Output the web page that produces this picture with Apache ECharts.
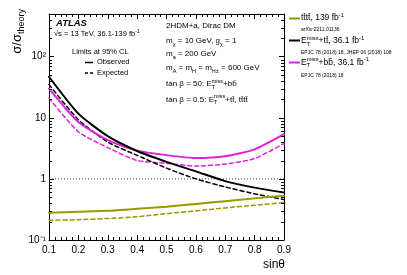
<!DOCTYPE html>
<html><head><meta charset="utf-8">
<script src="https://cdn.jsdelivr.net/npm/echarts@6/dist/echarts.min.js"></script>
<style>html,body{margin:0;padding:0;background:#fff}#c{width:407px;height:275px}</style>
</head><body><div id="c"></div>
<script>
// ---- data ----
const sinTheta = [0.1, 0.2, 0.3, 0.4, 0.5, 0.6, 0.7, 0.8, 0.9];
const ttObs   = [47, 11.7, 5.0, 2.86, 1.9, 1.33, 0.92, 0.72, 0.6];
const ttExp   = [35, 9.3, 4.0, 2.43, 1.5, 1.0, 0.74, 0.57, 0.46];
const bbObs   = [30, 8.5, 4.3, 2.9, 2.45, 2.2, 2.35, 3.05, 5.4];
const bbExp   = [21, 5.9, 3.25, 2.0, 1.8, 1.62, 1.75, 2.15, 3.8];
const ttttObs = [0.28, 0.29, 0.30, 0.325, 0.35, 0.39, 0.43, 0.48, 0.53];
const ttttExp = [0.21, 0.215, 0.225, 0.24, 0.27, 0.30, 0.335, 0.37, 0.41];
const refLevel = [1, 1];
const refX = [0.1, 0.9];
const yMajorLabels = {'-1': '10⁻¹', '0': '1', '1': '10', '2': '10²'};
const yMinorTicks = [0.2,0.3,0.4,0.5,0.6,0.7,0.8,0.9, 2,3,4,5,6,7,8,9, 20,30,40,50,60,70,80,90, 200,300,400];

const FONT = '"Liberation Sans", Arial, Helvetica, sans-serif';
const OLIVE = '#999900', MAG = '#dd22dd', BLK = '#000000';

const mctx = document.createElement('canvas').getContext('2d');
function fontStr(s, w, st){ return (st||'normal') + ' ' + (w||'normal') + ' ' + s + 'px ' + FONT; }
function tw(t, s, w, st){ mctx.font = fontStr(s, w, st); return mctx.measureText(t).width; }
function run(x, base, parts, color){
  const els = []; let cx = x, prevStart = x, prevEnd = x;
  for (const p of parts){
    const start = p.stack ? prevStart : cx;
    const width = tw(p.t, p.s, p.w, p.st);
    els.push({type:'text', x:start, y: base + (p.dy||0) - 0.35*p.s, silent:true,
      style:{text:p.t, font:fontStr(p.s, p.w, p.st), fill: color||'#000', align:'left', verticalAlign:'middle'}});
    const end = start + width;
    if (p.stack){ cx = Math.max(prevEnd, end); prevEnd = cx; }
    else { cx = end; prevEnd = end; }
    prevStart = start;
  }
  return {els, width: cx - x};
}
const M = 8, S = 5.5;
const sub = (t, s) => ({t, s:s||S, dy:2});
const sup = (t, stack, s) => ({t, s:s||S, dy:-3.6, stack:!!stack});
const txt = (t, s) => ({t, s: s||M});
const ETmiss = [txt('E'), sub('T'), sup('miss', true)];
const L = 8.5, LS = 5.8;
const ETmissL = [txt('E', L), sub('T', LS), sup('miss', true, LS)];

const g = [];
function add(r){ g.push(...r.els); }
// left block
add(run(56, 27, [{t:'ATLAS', s:9.5, w:'bold', st:'italic'}]));
add(run(54, 36.5, [txt('√s = 13 TeV, 36.1-139 fb', 7.5), {t:'-1', s:5, dy:-3.3}]));
add(run(72, 55, [txt('Limits at 95% CL', 7.5)]));
add(run(97, 65, [txt('Observed', 7.5)]));
add(run(97, 75.5, [txt('Expected', 7.5)]));
g.push({type:'line', shape:{x1:85, y1:62.5, x2:93, y2:62.5}, style:{stroke:BLK, lineWidth:1.5}, silent:true});
g.push({type:'line', shape:{x1:85, y1:73, x2:93, y2:73}, style:{stroke:BLK, lineWidth:1.3, lineDash:[3,2]}, silent:true});
// right block in plot
const RX = 166;
add(run(RX, 29, [txt('2HDM+a, Dirac DM')]));
add(run(RX, 44, [txt('m'), sub('χ'), txt(' = 10 GeV, g'), sub('χ'), txt(' = 1')]));
add(run(RX, 57, [txt('m'), sub('a'), txt(' = 200 GeV')]));
add(run(RX, 71, [txt('m'), sub('A'), txt(' = m'), sub('H'), txt(' = m'), sub('H±'), txt(' = 600 GeV')]));
add(run(RX, 87, [txt('tan β = 50: '), ...ETmiss, txt('+bb\u0304')]));
add(run(RX, 102.5, [txt('tan β = 0.5: '), ...ETmiss, txt('+tt\u0304, tt\u0304tt\u0304')]));
// outside legend
const LX = 301;
add(run(LX, 21, [txt('tt\u0304tt\u0304, 139 fb', L), sup('-1', false, LS)]));
add(run(LX, 31, [txt('arXiv:2211.01136', 5)]));
add(run(LX, 44, [...ETmissL, txt('+tt\u0304, 36.1 fb', L), sup('-1', false, LS)]));
add(run(LX, 54.5, [txt('EPJC 78 (2018) 18, JHEP 06 (2018) 108', 5)]));
add(run(LX, 65.5, [...ETmissL, txt('+bb\u0304, 36.1 fb', L), sup('-1', false, LS)]));
add(run(LX, 77, [txt('EPJC 78 (2018) 18', 5)]));
[[18.5, OLIVE],[40.5, BLK],[62.5, MAG]].forEach(([y,c]) => g.push({type:'line', shape:{x1:289, y1:y, x2:300, y2:y}, style:{stroke:c, lineWidth:2}, silent:true}));
// axis titles
const yt = [{t:'σ/σ', s:13}, {t:'theory', s:9, dy:3}];
const ytw = run(0, 0, yt).width;
g.push({type:'group', x:21.5, y:9, rotation:Math.PI/2, children: run(-ytw, 0, yt).els});
const xt = [{t:'sinθ', s:12}];
const xtw = run(0,0,xt).width;
add(run(285 - xtw, 269, xt));

const chart = echarts.init(document.getElementById('c'), null, {renderer:'canvas'});
const lbl = {fontFamily:FONT, fontSize:10, color:'#000'};
const xBase = {type:'value', min:0.1, max:0.9, interval:0.1,
  axisLine:{show:true, onZero:false, lineStyle:{color:'#000', width:1}},
  axisTick:{show:true, inside:true, length:5, lineStyle:{color:'#000'}},
  minorTick:{show:true, splitNumber:5, length:3, lineStyle:{color:'#000'}},
  splitLine:{show:false}, minorSplitLine:{show:false}};
const yBase = {type:'log', logBase:10, min:0.1, max:500,
  axisLine:{show:true, onZero:false, lineStyle:{color:'#000', width:1}},
  axisTick:{show:true, inside:true, length:5, lineStyle:{color:'#000'}},
  splitLine:{show:false}, minorTick:{show:false}};
function ser(arr, color, dashed, w, z){
  return {type:'line', xAxisIndex:0, yAxisIndex:0, data: sinTheta.map((x,i)=>[x, arr[i]]), symbol:'none',
    smooth:0.2, z, lineStyle:{color, width:w, type: dashed ? [4,3] : 'solid', join:'round', cap:'round'}, silent:true};
}
chart.setOption({
  animation:false,
  grid:{left:49, right:123, top:14, bottom:35, containLabel:false, outerBoundsMode:'none'},
  xAxis:[
    Object.assign({}, xBase, {position:'bottom', axisLabel:Object.assign({show:true, margin:5, formatter:v=>v.toFixed(1)}, lbl)}),
    Object.assign({}, xBase, {position:'top', axisLabel:{show:false}})
  ],
  yAxis:[
    Object.assign({}, yBase, {position:'left', axisLabel:Object.assign({show:true, margin:3,
      formatter:v=>{ const k = Math.log10(v); const r = Math.round(k); return Math.abs(k-r)<1e-6 && yMajorLabels[r] !== undefined ? yMajorLabels[r] : ''; }}, lbl)}),
    Object.assign({}, yBase, {position:'right', axisLabel:{show:false}})
  ],
  graphic: g,
  series:[
    {type:'line', data: refX.map((x,i)=>[x, refLevel[i]]), symbol:'none', z:1, silent:true,
      lineStyle:{color:'#444', width:1, type:[1,2]}},
    {type:'custom', silent:true, z:5, data: yMinorTicks.map(v=>[0.1, v]),
      renderItem:(params, api)=>{
        const v = api.value(1);
        const pL = api.coord([0.1, v]), pR = api.coord([0.9, v]);
        const y = Math.round(pL[1]) + 0.5;
        return {type:'group', children:[
          {type:'line', shape:{x1:pL[0], y1:y, x2:pL[0]+3, y2:y}, style:{stroke:'#000', lineWidth:1}},
          {type:'line', shape:{x1:pR[0]-3, y1:y, x2:pR[0], y2:y}, style:{stroke:'#000', lineWidth:1}}
        ]};
      }},
    ser(ttttExp, OLIVE, true, 1.5, 2),
    ser(ttttObs, OLIVE, false, 2, 3),
    ser(bbExp, MAG, true, 1.5, 2),
    ser(bbObs, MAG, false, 2, 3),
    ser(ttExp, BLK, true, 1.5, 2),
    ser(ttObs, BLK, false, 2, 3)
  ]
});
</script></body></html>
